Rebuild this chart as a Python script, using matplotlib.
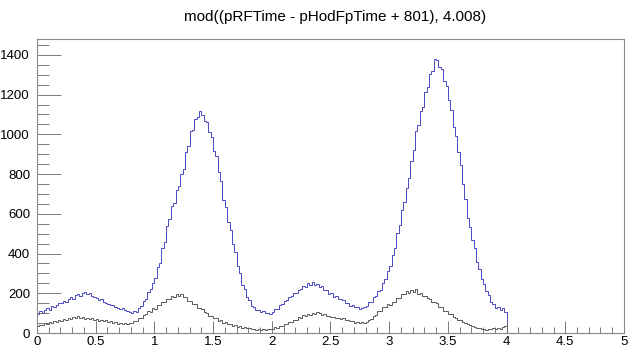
import numpy as np
import matplotlib
matplotlib.use("Agg")
import matplotlib.pyplot as plt
from matplotlib.ticker import MultipleLocator

plt.rcParams['font.family'] = ['Liberation Sans', 'DejaVu Sans']

TITLE = "mod((pRFTime - pHodFpTime + 801), 4.008)"
BIN_W = 0.02   # ancho de bin (0 -> 4.0)
X_MAX = 5.0

# Cuentas, bins de 0.02 desde x=0
blue = [
    96, 110, 103, 118, 124, 116, 135, 129, 143, 150,
    152, 163, 158, 172, 181, 170, 189, 196, 186, 203,
    208, 195, 199, 188, 182, 176, 168, 172, 158, 152,
    148, 139, 143, 131, 128, 122, 126, 115, 112, 108,
    102, 111, 108, 128, 136, 163, 172, 206, 219, 254,
    276, 331, 352, 428, 458, 541, 572, 638, 652, 718,
    738, 801, 826, 912, 941, 1018, 1022, 1079, 1088, 1116,
    1097, 1068, 1062, 1013, 986, 918, 889, 808, 763, 671,
    632, 558, 517, 446, 407, 338, 301, 244, 221, 180,
    164, 137, 131, 116, 118, 104, 111, 99, 103, 98,
    106, 119, 121, 139, 144, 162, 164, 183, 185, 201,
    203, 217, 219, 236, 232, 251, 244, 258, 241, 246,
    231, 235, 214, 216, 198, 199, 183, 186, 170, 172,
    165, 151, 152, 138, 143, 129, 132, 119, 124, 131,
    136, 154, 156, 181, 186, 212, 217, 251, 270, 312,
    336, 392, 428, 503, 546, 618, 657, 731, 781, 866,
    921, 1016, 1049, 1118, 1136, 1213, 1236, 1302, 1318, 1378,
    1372, 1338, 1331, 1266, 1241, 1171, 1124, 1036, 994, 912,
    846, 752, 677, 579, 536, 468, 426, 358, 322, 274,
    249, 211, 189, 156, 144, 126, 131, 117, 128, 104,
]

black = [
    33, 42, 39, 48, 45, 55, 50, 61, 56, 64,
    60, 69, 64, 75, 70, 79, 73, 84, 75, 80,
    71, 77, 68, 74, 65, 70, 62, 67, 58, 63,
    55, 60, 51, 56, 47, 52, 45, 49, 44, 51,
    50, 59, 58, 74, 75, 92, 94, 110, 108, 124,
    123, 139, 140, 156, 157, 170, 169, 185, 181, 194,
    186, 196, 179, 181, 161, 163, 146, 145, 128, 126,
    119, 104, 103, 88, 87, 74, 75, 62, 63, 52,
    53, 44, 46, 37, 38, 31, 33, 27, 29, 24,
    25, 20, 22, 17, 20, 16, 19, 17, 22, 20,
    22, 28, 27, 36, 35, 45, 43, 55, 54, 67,
    67, 79, 76, 89, 85, 97, 92, 103, 96, 104,
    101, 92, 95, 84, 88, 79, 83, 74, 78, 70,
    73, 64, 67, 58, 61, 52, 56, 48, 53, 49,
    55, 67, 69, 86, 90, 109, 112, 129, 130, 144,
    141, 156, 157, 174, 176, 194, 195, 210, 202, 214,
    205, 222, 198, 201, 186, 188, 174, 173, 158, 157,
    149, 133, 130, 113, 110, 95, 94, 80, 78, 65,
    64, 53, 52, 43, 41, 33, 32, 26, 27, 21,
    21, 17, 20, 18, 23, 20, 24, 22, 29, 33,
]

# bordes de bins, con un bin vacio hasta x=5
edges = np.append(np.arange(len(blue) + 1) * BIN_W, X_MAX)

fig = plt.figure(figsize=(6.29, 3.48), dpi=100)
ax = fig.add_axes([0.0588, 0.0431, 0.9332, 0.8449])

ax.stairs(black + [0], edges, color='#404040', lw=0.6, baseline=None)
ax.stairs(blue + [0], edges, color='#4848c4', lw=0.7, baseline=None)

ax.set_xlim(0, X_MAX)
ax.set_ylim(0, 1480)

ax.xaxis.set_major_locator(MultipleLocator(0.5))
ax.xaxis.set_minor_locator(MultipleLocator(0.1))
ax.yaxis.set_major_locator(MultipleLocator(200))
ax.yaxis.set_minor_locator(MultipleLocator(50))

ax.tick_params(axis='both', which='both', direction='in', colors='#666666',
               labelcolor='black', labelsize=9.5, width=0.6)
ax.tick_params(axis='y', which='major', length=17, pad=5)
ax.tick_params(axis='y', which='minor', length=8.5)
ax.tick_params(axis='x', which='major', length=9, pad=2)
ax.tick_params(axis='x', which='minor', length=4.5)

ax.xaxis.set_major_formatter(plt.FuncFormatter(lambda v, p: "%g" % v))

for s in ax.spines.values():
    s.set_color('#888888')
    s.set_linewidth(0.8)

fig.text(0.533, 0.951, TITLE, ha='center', va='center', fontsize=11)

fig.savefig("out.png", dpi=100)
